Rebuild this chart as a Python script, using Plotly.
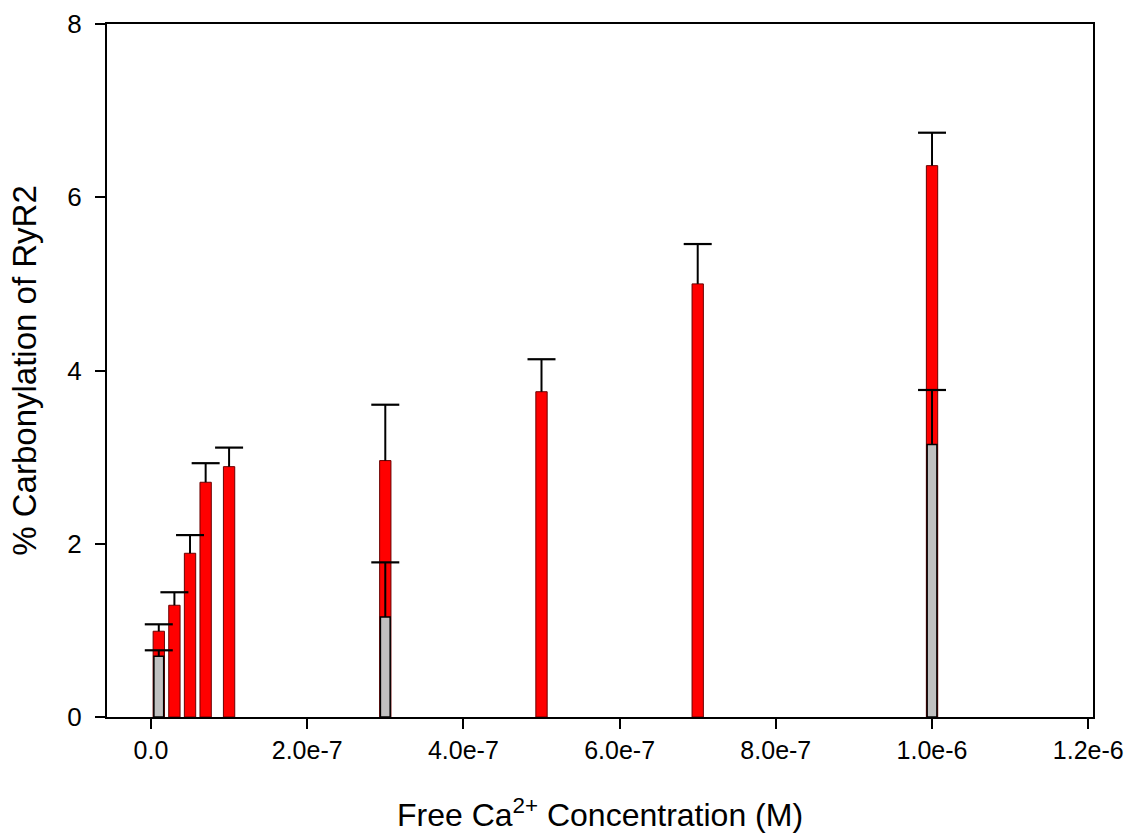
import plotly.graph_objects as go

# Data
ca_red = [1e-8, 3e-8, 5e-8, 7e-8, 1e-7, 3e-7, 5e-7, 7e-7, 1e-6]
carb_red = [0.99, 1.29, 1.89, 2.71, 2.89, 2.96, 3.755, 5.0, 6.365]
err_red = [0.08, 0.15, 0.21, 0.22, 0.22, 0.645, 0.375, 0.46, 0.38]

ca_gray = [1e-8, 3e-7, 1e-6]
carb_gray = [0.70, 1.155, 3.145]
err_gray = [0.07, 0.63, 0.63]

x_tickvals = [0, 2e-7, 4e-7, 6e-7, 8e-7, 1e-6, 1.2e-6]
x_ticktext = ["0.0", "2.0e-7", "4.0e-7", "6.0e-7", "8.0e-7", "1.0e-6", "1.2e-6"]
y_tickvals = [0, 2, 4, 6, 8]

FONT = "Liberation Sans, Arial, sans-serif"


def add_series(fig, xs, ys, fill, outline, outline_w, bar_w):
    fig.add_trace(go.Bar(
        x=xs, y=ys, width=bar_w,
        marker=dict(color=fill, line=dict(color=outline, width=outline_w)),
        showlegend=False, hoverinfo="skip",
    ))


def add_errors(fig, xs, ys, errs):
    # upward-only error bars: stem from the bar top, cap at top
    fig.add_trace(go.Scatter(
        x=xs, y=ys, mode="markers",
        marker=dict(size=1, color="rgba(0,0,0,0)"),
        error_y=dict(type="data", array=errs, symmetric=False,
                     arrayminus=[0] * len(errs), color="black",
                     thickness=2, width=0),
        showlegend=False, hoverinfo="skip",
    ))
    fig.add_trace(go.Scatter(
        x=xs, y=[v + e for v, e in zip(ys, errs)], mode="markers",
        marker=dict(symbol="line-ew", size=20, color="black",
                    line=dict(color="black", width=2.2)),
        showlegend=False, hoverinfo="skip",
    ))


fig = go.Figure()
add_series(fig, ca_red, carb_red, "#ff0000", "#6a0000", 1, 1.45e-8)
add_series(fig, ca_gray, carb_gray, "#c0c0c0", "black", 1.5, 1.25e-8)
add_errors(fig, ca_red, carb_red, err_red)
add_errors(fig, ca_gray, carb_gray, err_gray)

fig.update_layout(
    width=1129, height=833,
    barmode="overlay",
    paper_bgcolor="white", plot_bgcolor="white",
    margin=dict(l=107, r=36, t=24, b=116, autoexpand=False),
    font=dict(family=FONT, size=25, color="black"),
)
fig.update_xaxes(
    range=[-5.63e-8, 1.2061e-6],
    tickvals=x_tickvals, ticktext=x_ticktext,
    ticks="outside", ticklen=10, tickwidth=2, tickcolor="black",
    showline=True, linecolor="black", linewidth=2, mirror=True,
    showgrid=False, zeroline=False, automargin=False,
    tickfont=dict(size=25),
    title=dict(text="Free Ca<sup>2+</sup> Concentration (M)", font=dict(size=32), standoff=45),
)
fig.update_yaxes(
    range=[0, 8],
    tickvals=y_tickvals,
    ticks="outside", ticklen=10, tickwidth=2, tickcolor="black",
    showline=True, linecolor="black", linewidth=2, mirror=True,
    showgrid=False, zeroline=False, automargin=False,
    tickfont=dict(size=26), ticklabelstandoff=8,
    title=dict(text="% Carbonylation of RyR2", font=dict(size=33), standoff=21),
)

fig.write_html(
    "out.html",
    config={"displayModeBar": False},
    post_script="document.body.style.margin='0';document.body.style.overflow='hidden';",
)
